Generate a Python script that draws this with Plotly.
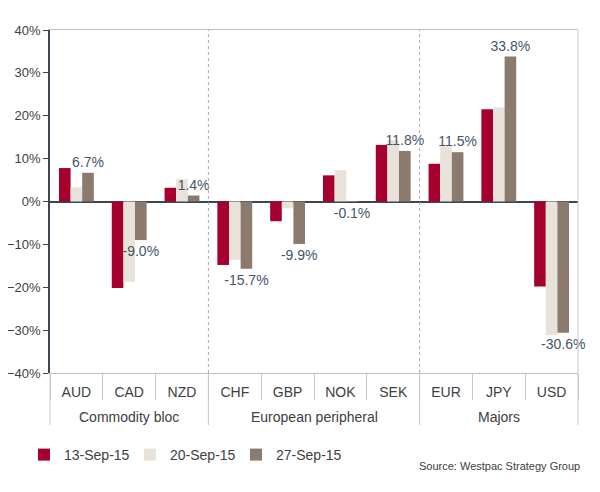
import plotly.graph_objects as go

groups = ["Commodity bloc"] * 3 + ["European peripheral"] * 4 + ["Majors"] * 3
currencies = ["AUD", "CAD", "NZD", "CHF", "GBP", "NOK", "SEK", "EUR", "JPY", "USD"]
sep13 = [7.8, -20.2, 3.2, -14.8, -4.6, 6.1, 13.2, 8.8, 21.5, -19.8]
sep20 = [3.3, -18.7, 5.2, -13.6, -1.6, 7.3, 14.3, 12.9, 21.9, -31.2]
sep27 = [6.7, -9.0, 1.4, -15.7, -9.9, -0.1, 11.8, 11.5, 33.8, -30.6]
series_names = ["13-Sep-15", "20-Sep-15", "27-Sep-15"]
colors = ["#A5002D", "#E9E2DB", "#8A7B6E"]

FONT = "Liberation Sans, Arial, sans-serif"
OFF = 8  # page body margin
W, H = 600 - OFF, 492 - OFF
# plot area in page coords: x 50..578, y 30..373
ML, MT = 50 - OFF, 30 - OFF
PW, PH = 578 - 50, 373 - 30
MR, MB = W - ML - PW, H - MT - PH


def py(page_y):
    """page y -> paper fraction"""
    return (MT + PH - (page_y - OFF)) / PH


def px(page_x):
    return ((page_x - OFF) - ML) / PW


fig = go.Figure()
for name, vals, col in zip(series_names, [sep13, sep20, sep27], colors):
    kw = {}
    if name == "27-Sep-15":
        kw = dict(texttemplate="%{y:.1f}%", textposition="outside",
                  textfont=dict(family=FONT, size=14, color="#44546A"),
                  constraintext="none", cliponaxis=False)
    fig.add_trace(go.Bar(x=currencies, y=vals, name=name, marker_color=col,
                         marker_line_width=0, **kw))

n = len(currencies)
bounds = [0.0]
for i in range(1, n):
    if groups[i] != groups[i - 1]:
        bounds.append(i / n)
bounds.append(1.0)

shapes = []
for b in bounds[1:-1]:
    shapes.append(dict(type="line", xref="paper", yref="paper", x0=b, x1=b, y0=0, y1=1,
                       line=dict(color="#A8A8A8", width=1, dash="dot")))
shapes.append(dict(type="line", xref="paper", yref="paper", x0=1, x1=1, y0=0, y1=1,
                   line=dict(color="#C8C8C8", width=1)))
for b in bounds:
    shapes.append(dict(type="line", xref="paper", yref="paper", x0=b, x1=b,
                       y0=0, y1=py(425), line=dict(color="#C8C8C8", width=1)))

annotations = []
for g0, g1 in zip(bounds[:-1], bounds[1:]):
    name = groups[int(round(g0 * n))]
    annotations.append(dict(text=name, xref="paper", yref="paper", x=(g0 + g1) / 2,
                            y=py(417), xanchor="center", yanchor="middle", showarrow=False,
                            font=dict(family=FONT, size=14, color="#404040")))
annotations.append(dict(text="Source: Westpac Strategy Group", xref="paper", yref="paper",
                        x=px(582), y=py(466), xanchor="right",
                        yanchor="middle", showarrow=False,
                        font=dict(family=FONT, size=11, color="#404040")))

fig.update_layout(
    width=W, height=H,
    margin=dict(l=ML, r=MR, t=MT, b=MB, autoexpand=False),
    paper_bgcolor="white", plot_bgcolor="white",
    barmode="group", bargap=0.34, bargroupgap=0,
    font=dict(family=FONT, size=14, color="#404040"),
    showlegend=True,
    legend=dict(orientation="h", x=px(24), y=py(455),
                xanchor="left", yanchor="middle",
                font=dict(family=FONT, size=14, color="#404040"),
                itemwidth=30, entrywidth=61, tracegroupgap=0),
    shapes=shapes,
    annotations=annotations,
    xaxis=dict(type="category", showline=True, linecolor="#BFBFBF", linewidth=1,
               mirror=True, ticks="outside", tickson="boundaries", ticklen=26,
               tickcolor="#C8C8C8", showgrid=False, automargin=False,
               ticklabelstandoff=6,
               tickfont=dict(family=FONT, size=14, color="#404040")),
    yaxis=dict(range=[-40, 40], dtick=10, ticksuffix="%", showline=True,
               linecolor="#3C4650", linewidth=1.5, ticks="outside", ticklen=5,
               tickcolor="#3C4650", showgrid=False, zeroline=True,
               zerolinecolor="#3C4650", zerolinewidth=1.5, automargin=False,
               tickfont=dict(family=FONT, size=13, color="#404040")),
)

fig.write_html("out.html")
